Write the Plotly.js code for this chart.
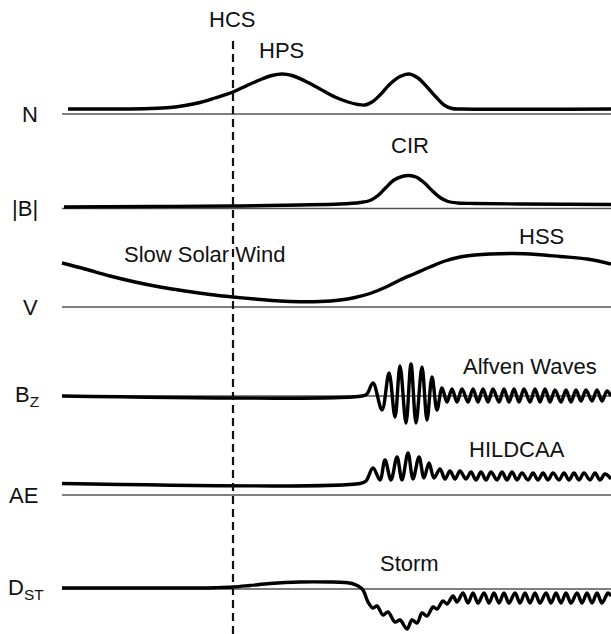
<!DOCTYPE html>
<html>
<head>
<meta charset="utf-8">
<script src="https://cdn.plot.ly/plotly-3.0.1.min.js"></script>
<style>html,body{margin:0;padding:0;background:#fff;}#chart{width:611px;height:634px;}</style>
</head>
<body>
<div id="chart"></div>
<script>
// ---- data (time in arbitrary units, level = height above each panel's baseline) ----
const panelNames = ['N', '|B|', 'V', 'B<sub>Z</sub>', 'AE', 'D<sub>ST</sub>'];

const nTime  = [68, 120, 150, 170, 185, 200, 215, 233, 248, 262, 272, 282, 292, 305, 320, 335, 348, 358, 365, 372, 380, 390, 400, 409, 418, 427, 436, 444, 452, 462, 611];
const nLevel = [5, 5, 5.5, 6.5, 8.5, 11.5, 16, 22, 29, 35, 38.5, 40, 38.5, 33, 25, 17, 12, 9.5, 9, 12, 19, 30, 37.5, 40, 36, 27, 17, 9, 5.5, 5, 5];

const bTime  = [64, 150, 233, 300, 340, 360, 370, 378, 386, 394, 402, 409, 416, 424, 432, 440, 448, 458, 475, 520, 611];
const bLevel = [1.5, 2, 2.5, 3.5, 4.5, 6, 8, 13, 21, 28.5, 32, 33, 31.5, 26, 18, 11, 7, 5.5, 5, 4.5, 4];

const vTime  = [62, 85, 110, 135, 160, 185, 210, 233, 255, 280, 300, 320, 340, 355, 370, 385, 400, 415, 430, 445, 460, 475, 490, 513, 537, 560, 587, 611];
const vLevel = [44, 38, 31, 25, 20, 16, 12.5, 10, 8, 6, 5.3, 5.5, 7, 9.5, 13.5, 19.5, 27, 33.5, 40, 46, 50, 52, 53, 53.5, 52.5, 50.5, 48, 43];

const bzTime  = [62, 362, 367, 373, 382, 389, 395, 400, 406, 411, 416, 422, 427, 432, 437, 442, 447, 452, 457, 462, 468, 473, 478, 483, 488, 493, 499, 504, 509, 514, 519, 524, 530, 535, 540, 545, 550, 555, 561, 566, 571, 576, 581, 586, 592, 597, 602, 607, 611];
const bzLevel = [0, 0, 2, 13, -14, 23, -21, 30, -27, 32, -27, 29, -24, 19, -14, 8, -6, 7, -6, 7, -6, 7, -6, 7, -6, 7, -6, 7, -6, 7, -6, 7, -6, 7, -6, 7, -6, 6, -6, 6, -6, 6, -5, 6, -5, 6, -5, 5, 0];

const aeTime  = [62, 360, 366, 373, 380, 385, 391, 397, 402, 408, 413, 419, 424, 429, 434, 440, 445, 450, 455, 460, 466, 471, 476, 481, 486, 491, 497, 502, 507, 512, 517, 522, 528, 533, 538, 543, 548, 553, 559, 564, 569, 574, 579, 584, 590, 595, 600, 605, 611];
const aeLevel = [11.5, 11.5, 14, 27, 15, 35, 15, 38, 15, 42, 16, 38, 17, 32, 17, 26, 16, 24, 16, 24, 16, 23, 15, 23, 15, 23, 15, 23, 15, 23, 15, 22, 15, 22, 15, 22, 15, 22, 15, 22, 15, 22, 15, 22, 15, 22, 15, 21, 16];

const dstTime  = [62, 200, 215, 233, 250, 270, 300, 330, 345, 352, 358, 363, 368, 373, 377, 383, 388, 395, 400, 407, 412, 417, 422, 427, 433, 437, 443, 447, 453, 457, 463, 468, 473, 478, 484, 489, 494, 499, 504, 509, 515, 520, 525, 530, 535, 540, 546, 551, 556, 561, 566, 571, 577, 582, 587, 592, 597, 602, 608, 611];
const dstLevel = [1, 1, 1.3, 2, 3.5, 5.5, 7, 7, 6.5, 5.5, 3, -1, -13, -19, -17, -26, -23, -33, -31, -40, -31, -34, -24, -27, -18, -20, -12, -15, -7, -13, -4, -14, -4, -14, -4, -14, -4, -14, -4, -14, -4, -14, -4, -14, -4, -14, -4, -14, -4, -14, -4, -14, -4, -14, -4, -14, -4, -14, -4, -7];

const hcsTime = 233;

const eventText  = ['HCS', 'HPS', 'CIR', 'Slow Solar Wind', 'HSS', 'Alfven Waves', 'HILDCAA', 'Storm'];
const eventTime  = [232, 281, 410, 204, 541, 530, 517, 409];
const eventLevel = [95, 64, 63.5, 53, 71, 30, 46, 26];
const eventPanel = [0, 0, 1, 2, 2, 3, 4, 5];

// ---- presentation ----
const baselineRow = [114, 208.5, 307, 396, 495, 589]; // pixel row of each panel's zero line
const labelRight  = [40, 40, 40, 41, 40, 46];         // right edge of each panel name
const H = 634, W = 611;
const font = 'Liberation Sans, Arial, Helvetica, sans-serif';
const series = [[nTime, nLevel], [bTime, bLevel], [vTime, vLevel], [bzTime, bzLevel], [aeTime, aeLevel], [dstTime, dstLevel]];

const traces = [];
const layout = {
  width: W, height: H,
  margin: {l: 0, r: 0, t: 0, b: 0, pad: 0},
  paper_bgcolor: '#fff', plot_bgcolor: '#fff',
  showlegend: false,
  xaxis: {range: [0, W], visible: false, fixedrange: true},
  annotations: [],
  shapes: []
};

series.forEach((s, i) => {
  const ya = i === 0 ? 'y' : 'y' + (i + 1);
  const key = i === 0 ? 'yaxis' : 'yaxis' + (i + 1);
  layout[key] = {
    range: [baselineRow[i] - H, baselineRow[i]],
    domain: [0, 1], visible: false, fixedrange: true
  };
  if (i > 0) layout[key].overlaying = 'y';
  // thin baseline
  traces.push({x: [62, W], y: [0, 0], xaxis: 'x', yaxis: ya, mode: 'lines',
    line: {color: '#555', width: 1.4}, hoverinfo: 'skip'});
  // thick curve
  traces.push({x: s[0], y: s[1], xaxis: 'x', yaxis: ya, mode: 'lines',
    line: {color: '#000', width: 3.4, shape: 'spline', smoothing: 1}, hoverinfo: 'skip'});
  layout.annotations.push({
    x: labelRight[i], y: 0, xref: 'x', yref: ya, text: panelNames[i], showarrow: false,
    xanchor: 'right', yanchor: 'middle', font: {family: font, size: 22, color: '#111'}
  });
});

eventText.forEach((t, k) => {
  const p = eventPanel[k];
  layout.annotations.push({
    x: eventTime[k], y: eventLevel[k], xref: 'x', yref: p === 0 ? 'y' : 'y' + (p + 1),
    text: t, showarrow: false, xanchor: 'center', yanchor: 'middle',
    font: {family: font, size: 22, color: '#111'}
  });
});

layout.shapes.push({
  type: 'line', xref: 'x', yref: 'paper', x0: hcsTime, x1: hcsTime, y0: 0, y1: 1 - 37 / H,
  line: {color: '#111', width: 2.2, dash: '8px,5px'}
});

Plotly.newPlot('chart', traces, layout, {staticPlot: true, displayModeBar: false});
</script>
</body>
</html>
